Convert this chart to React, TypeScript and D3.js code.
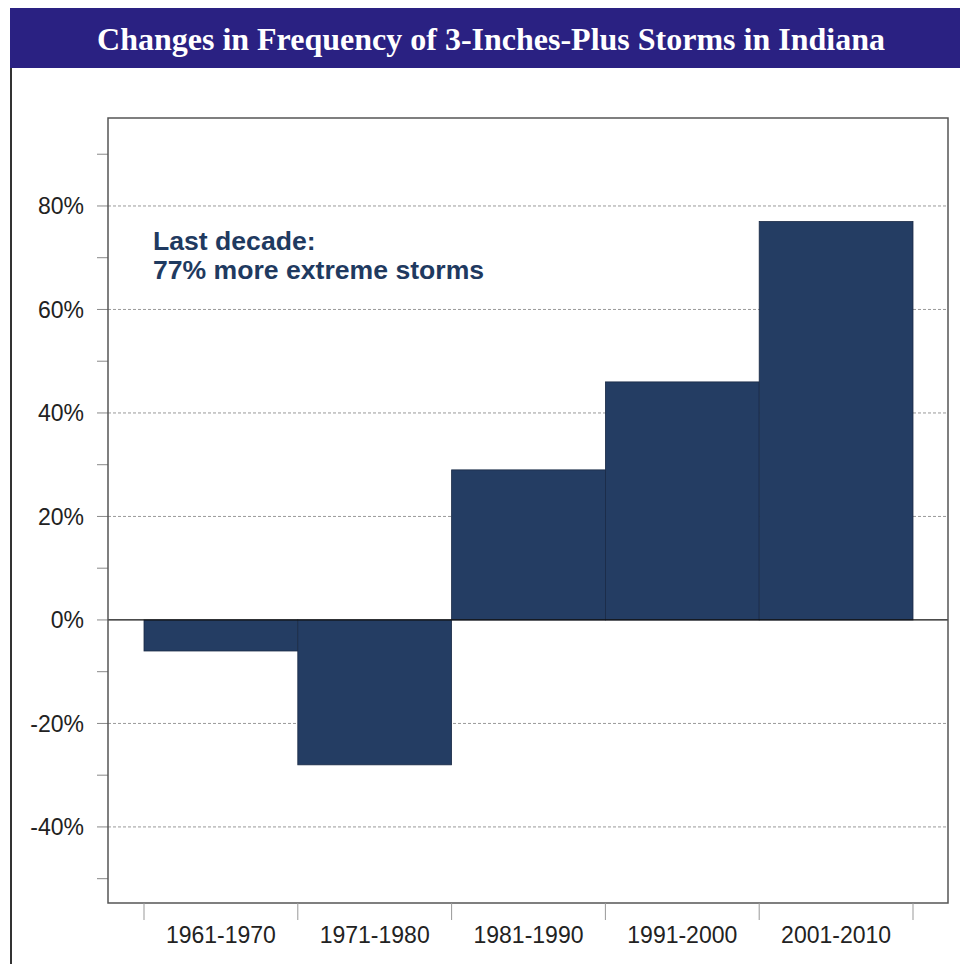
import * as d3 from "d3";

const TITLE = "Changes in Frequency of 3-Inches-Plus Storms in Indiana";
const DECADES = ["1961-1970", "1971-1980", "1981-1990", "1991-2000", "2001-2010"];
const CHANGE = [-6, -28, 29, 46, 77];
const Y_LABELS = [80, 60, 40, 20, 0, -20, -40];
const Y_MINOR = [90, 70, 50, 30, 10, -10, -30, -50];
const NOTE = ["Last decade:", "77% more extreme storms"];

const W = 960;
const H = 964;
const FRAME = { left: 108, right: 948, top: 118, bottom: 903 };
const BAR = "#243d63";
const SANS = "Arial, 'Liberation Sans', sans-serif";

export default function App() {
  const y = d3.scaleLinear().domain([-54.7, 97]).range([FRAME.bottom, FRAME.top]);
  const x = d3
    .scaleBand<string>()
    .domain(DECADES)
    .range([144, 913])
    .paddingInner(0);
  const bw = x.bandwidth();
  const edges = [...DECADES.map((d) => x(d) as number), (x(DECADES[4]) as number) + bw];

  return (
    <svg
      width={W}
      height={H}
      viewBox={`0 0 ${W} ${H}`}
      style={{ position: "absolute", left: 0, top: 0, background: "#fff" }}
    >
      {/* title bar */}
      <rect x={10} y={8} width={W - 10} height={60} fill="#2a2182" />
      <text
        x={491}
        y={50}
        textAnchor="middle"
        fill="#fff"
        fontFamily="'Liberation Serif', 'Times New Roman', serif"
        fontWeight="bold"
        fontSize={32}
      >
        {TITLE}
      </text>
      <line x1={11} x2={11} y1={68} y2={H} stroke="#333" strokeWidth={2} />

      {/* grid */}
      {Y_LABELS.filter((v) => v !== 0).map((v) => (
        <line
          key={v}
          x1={FRAME.left}
          x2={FRAME.right}
          y1={y(v)}
          y2={y(v)}
          stroke="#999"
          strokeWidth={1}
          strokeDasharray="3,2"
        />
      ))}

      {/* y ticks */}
      {[...Y_LABELS, ...Y_MINOR].map((v) => (
        <line
          key={"t" + v}
          x1={FRAME.left - 11}
          x2={FRAME.left}
          y1={y(v)}
          y2={y(v)}
          stroke="#888"
          strokeWidth={1}
        />
      ))}
      {Y_LABELS.map((v) => (
        <text
          key={"l" + v}
          x={84}
          y={y(v)}
          dy="0.36em"
          textAnchor="end"
          fill="#222"
          fontFamily={SANS}
          fontSize={23}
        >
          {v}%
        </text>
      ))}

      {/* bars */}
      {CHANGE.map((v, i) => {
        const y0 = y(Math.max(0, v));
        const y1 = y(Math.min(0, v));
        return (
          <rect
            key={DECADES[i]}
            x={x(DECADES[i])}
            y={y0}
            width={bw}
            height={y1 - y0}
            fill={BAR}
            stroke="#1a2a45"
            strokeWidth={0.8}
          />
        );
      })}

      {/* zero line */}
      <line x1={FRAME.left} x2={FRAME.right} y1={y(0)} y2={y(0)} stroke="#111" strokeWidth={1.2} />

      {/* frame */}
      <rect
        x={FRAME.left}
        y={FRAME.top}
        width={FRAME.right - FRAME.left}
        height={FRAME.bottom - FRAME.top}
        fill="none"
        stroke="#555"
        strokeWidth={1.5}
      />

      {/* x ticks */}
      {edges.map((e, i) => (
        <line key={"x" + i} x1={e} x2={e} y1={FRAME.bottom} y2={FRAME.bottom + 17} stroke="#999" strokeWidth={1} />
      ))}
      {DECADES.map((d) => (
        <text
          key={"xl" + d}
          x={(x(d) as number) + bw / 2}
          y={943}
          textAnchor="middle"
          fill="#222"
          fontFamily={SANS}
          fontSize={23}
        >
          {d}
        </text>
      ))}

      {/* annotation */}
      {NOTE.map((t, i) => (
        <text
          key={t}
          x={153}
          y={250 + i * 29}
          fill="#1f3a60"
          fontFamily={SANS}
          fontWeight="bold"
          fontSize={26.6}
        >
          {t}
        </text>
      ))}
    </svg>
  );
}
